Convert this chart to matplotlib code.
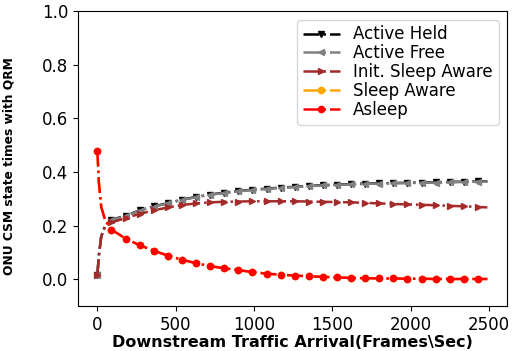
import numpy as np
import matplotlib.pyplot as plt

# Downstream traffic arrival rate (frames/sec)
x = [0, 10, 25, 50, 90, 180, 270, 360, 450, 540, 630, 720, 810, 900, 990,
     1080, 1170, 1260, 1350, 1440, 1530, 1620, 1710, 1800, 1890, 1980,
     2070, 2160, 2250, 2340, 2430, 2490]

active_held = [0.015, 0.09, 0.16, 0.20, 0.222, 0.237, 0.257, 0.272, 0.284,
               0.297, 0.307, 0.316, 0.323, 0.329, 0.334, 0.338, 0.342, 0.345,
               0.348, 0.351, 0.353, 0.355, 0.357, 0.358, 0.359, 0.360, 0.361,
               0.362, 0.363, 0.364, 0.365, 0.365]
active_free = [0.015, 0.09, 0.16, 0.20, 0.221, 0.236, 0.256, 0.271, 0.283,
               0.296, 0.306, 0.315, 0.322, 0.328, 0.333, 0.337, 0.341, 0.344,
               0.347, 0.350, 0.352, 0.354, 0.356, 0.357, 0.358, 0.359, 0.360,
               0.361, 0.362, 0.363, 0.364, 0.364]
init_sleep = [0.015, 0.09, 0.16, 0.20, 0.212, 0.228, 0.244, 0.257, 0.268,
              0.277, 0.283, 0.287, 0.289, 0.290, 0.291, 0.291, 0.291, 0.291,
              0.290, 0.289, 0.288, 0.287, 0.285, 0.283, 0.281, 0.279, 0.278,
              0.276, 0.274, 0.272, 0.270, 0.268]
asleep = [0.48, 0.36, 0.27, 0.22, 0.185, 0.152, 0.127, 0.107, 0.088, 0.073,
          0.060, 0.049, 0.041, 0.034, 0.027, 0.021, 0.017, 0.014, 0.011,
          0.009, 0.007, 0.005, 0.004, 0.003, 0.003, 0.002, 0.002, 0.001,
          0.001, 0.001, 0.001, 0.001]
sleep_aware = list(asleep)

marks = [0] + list(range(4, 31))

plt.figure(figsize=(5.12, 3.51), dpi=100)
kw = dict(linestyle='-.', linewidth=1.8, markersize=4.5, markevery=marks)
plt.plot(x, active_held, color='black', marker='v', label='Active Held', **kw)
plt.plot(x, active_free, color='gray', marker='<', label='Active Free', **kw)
plt.plot(x, init_sleep, color='brown', marker='>', label='Init. Sleep Aware', **kw)
plt.plot(x, sleep_aware, color='orange', marker='o', label='Sleep Aware', **kw)
plt.plot(x, asleep, color='red', marker='o', label='Asleep', **kw)

plt.ylim(-0.1, 1.0)
plt.xticks([0, 500, 1000, 1500, 2000, 2500], fontsize=12)
plt.yticks([0.0, 0.2, 0.4, 0.6, 0.8, 1.0], fontsize=12)
plt.xlabel('Downstream Traffic Arrival(Frames\\Sec)', fontweight='bold', fontsize=11.5, labelpad=1)
plt.ylabel('ONU CSM state times with QRM', fontweight='bold', fontsize=8.8,
           family=['Liberation Sans Narrow', 'DejaVu Sans'])
plt.gca().yaxis.set_label_coords(-0.145, 0.475)
plt.legend(loc='upper right', fontsize=12, handlelength=2.2, labelspacing=0.05,
           borderpad=0.35)
plt.subplots_adjust(left=0.152, right=0.99, top=0.968, bottom=0.128)
plt.savefig('out.png', dpi=100)
